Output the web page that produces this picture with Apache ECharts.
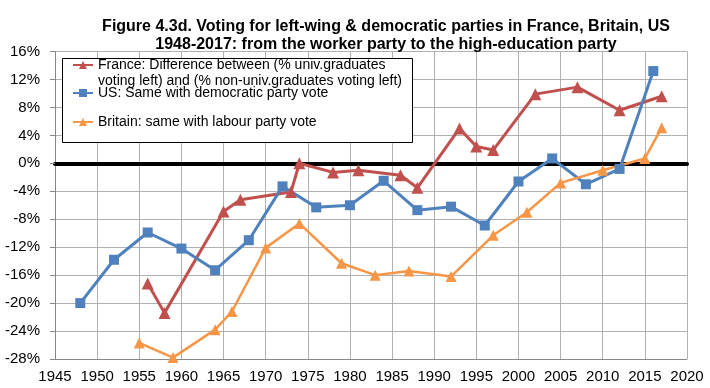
<!DOCTYPE html>
<html><head><meta charset="utf-8">
<script src="https://cdn.jsdelivr.net/npm/echarts@6/dist/echarts.min.js"></script>
<style>html,body{margin:0;padding:0;background:#fff}#c{width:710px;height:388px}</style>
</head><body><div id="c"></div>
<script>
// ---- Data ----
const titleLines = [
  'Figure 4.3d. Voting for left-wing & democratic parties in France, Britain, US',
  '1948-2017: from the worker party to the high-education party'
];
const seriesNames = ['France', 'US', 'Britain'];
const legendLabels = [
  'France: Difference between (% univ.graduates\nvoting left) and (% non-univ.graduates voting left)',
  'US: Same with democratic party vote',
  'Britain: same with labour party vote'
];
const franceYears = [1956, 1958, 1965, 1967, 1973, 1974, 1978, 1981, 1986, 1988, 1993, 1995, 1997, 2002, 2007, 2012, 2017];
const franceValues = [-17.2, -21.4, -6.9, -5.2, -4.1, 0.0, -1.3, -1.0, -1.7, -3.5, 5.0, 2.4, 1.9, 9.9, 10.9, 7.6, 9.6];
const usYears = [1948, 1952, 1956, 1960, 1964, 1968, 1972, 1976, 1980, 1984, 1988, 1992, 1996, 2000, 2004, 2008, 2012, 2016];
const usValues = [-20.0, -13.8, -9.9, -12.2, -15.3, -11.0, -3.3, -6.3, -6.0, -2.5, -6.7, -6.2, -8.9, -2.6, 0.7, -3.0, -0.8, 13.2];
const britainYears = [1955, 1959, 1964, 1966, 1970, 1974, 1979, 1983, 1987, 1992, 1997, 2001, 2005, 2010, 2015, 2017];
const britainValues = [-25.7, -27.8, -23.8, -21.2, -12.1, -8.6, -14.3, -16.0, -15.4, -16.2, -10.3, -7.0, -2.8, -1.0, 0.7, 5.1];
const xTickLabels = ['1945','1950','1955','1960','1965','1970','1975','1980','1985','1990','1995','2000','2005','2010','2015','2020'];
const yTickLabels = ['-28%','-24%','-20%','-16%','-12%','-8%','-4%','0%','4%','8%','12%','16%'];

// ---- Chart ----
const pairs = (xs, ys) => xs.map((x, i) => [x, ys[i]]);
const X_MIN = +xTickLabels[0], X_MAX = +xTickLabels[xTickLabels.length - 1];
const Y_MIN = parseFloat(yTickLabels[0]), Y_MAX = parseFloat(yTickLabels[yTickLabels.length - 1]);
const X_STEP = +xTickLabels[1] - +xTickLabels[0];
const Y_STEP = parseFloat(yTickLabels[1]) - parseFloat(yTickLabels[0]);
const yLabelFor = v => yTickLabels[Math.round((v - Y_MIN) / Y_STEP)] || '';
const xLabelFor = v => xTickLabels[Math.round((v - X_MIN) / X_STEP)] || '';

const colors = ['#c0504d', '#4f81bd', '#f79646'];
const gridColor = '#b0b0b0';
const chart = echarts.init(document.getElementById('c'), null, {renderer: 'canvas'});

// France label gets an empty leading line so the icon sits beside its first line
const legendTops = [41, 85, 114];
const legends = seriesNames.map((n, i) => ({
  data: [n],
  left: 72, top: legendTops[i], padding: 0, itemGap: 0,
  orient: 'vertical',
  itemWidth: 20, itemHeight: 10,
  formatter: () => (i === 0 ? '\n' : '') + legendLabels[i],
  textStyle: {
    fontFamily: 'Liberation Sans, Arial, sans-serif', fontSize: 14, color: '#000',
    lineHeight: 16
  },
  z: 5
}));

chart.setOption({
  animation: false,
  backgroundColor: '#fff',
  title: {
    text: titleLines.join('\n'),
    left: 386, top: 18, textAlign: 'center', padding: 0,
    textStyle: {fontFamily: 'Liberation Sans Narrow, Arial Narrow, sans-serif', fontWeight: 'bold', fontSize: 16, lineHeight: 18, color: '#000'}
  },
  legend: legends,
  graphic: [{
    type: 'rect', left: 62, top: 58, z: 3,
    shape: {width: 350, height: 84},
    style: {fill: '#fff', stroke: '#000', lineWidth: 1}
  }],
  grid: {left: 55, right: 23, top: 51.5, bottom: 29, containLabel: false},
  xAxis: [{
    type: 'value', min: X_MIN, max: X_MAX, interval: X_STEP, position: 'bottom',
    axisLine: {onZero: false, lineStyle: {color: '#888', width: 1}},
    axisTick: {show: false},
    axisLabel: {formatter: xLabelFor, fontFamily: 'Liberation Sans, Arial, sans-serif', fontSize: 15, color: '#000', margin: 10},
    splitLine: {show: true, lineStyle: {color: gridColor, width: 1}}
  }, {
    type: 'value', min: X_MIN, max: X_MAX, interval: X_STEP,
    axisLine: {show: true, onZero: true, lineStyle: {color: '#000', width: 4}},
    axisTick: {show: false}, axisLabel: {show: false}, splitLine: {show: false}
  }],
  yAxis: {
    type: 'value', min: Y_MIN, max: Y_MAX, interval: Y_STEP,
    axisLine: {show: true, onZero: false, lineStyle: {color: '#888', width: 1}},
    axisTick: {show: true, length: 5, lineStyle: {color: '#888'}},
    axisLabel: {formatter: yLabelFor, fontFamily: 'Liberation Sans, Arial, sans-serif', fontSize: 15, color: '#000', margin: 15},
    splitLine: {show: true, lineStyle: {color: gridColor, width: 1}}
  },
  series: [{
    name: seriesNames[0], type: 'line', data: pairs(franceYears, franceValues),
    symbol: 'triangle', symbolSize: 12, color: colors[0],
    lineStyle: {width: 3, color: colors[0]}, itemStyle: {color: colors[0]}
  }, {
    name: seriesNames[1], type: 'line', data: pairs(usYears, usValues),
    symbol: 'rect', symbolSize: 10, color: colors[1],
    lineStyle: {width: 3, color: colors[1]}, itemStyle: {color: colors[1]}
  }, {
    name: seriesNames[2], type: 'line', data: pairs(britainYears, britainValues),
    symbol: 'triangle', symbolSize: 11, color: colors[2],
    lineStyle: {width: 2.5, color: colors[2]}, itemStyle: {color: colors[2]}
  }]
});
</script></body></html>
